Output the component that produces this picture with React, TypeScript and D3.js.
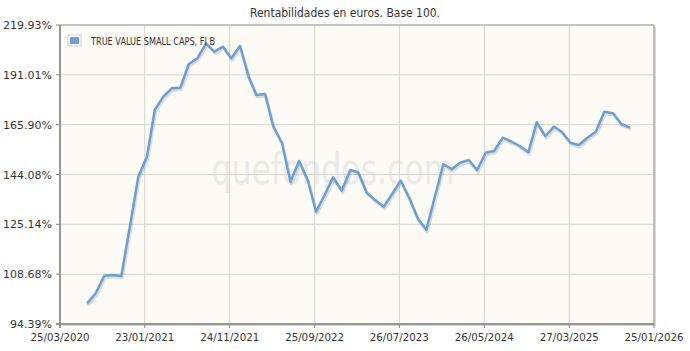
import React from "react";
import * as d3 from "d3";

const title = "Rentabilidades en euros. Base 100.";
const seriesName = "TRUE VALUE SMALL CAPS, FI B";

const dates = [
  "2020-06-30","2020-07-31","2020-08-31","2020-09-30","2020-10-31","2020-11-30","2020-12-31",
  "2021-01-31","2021-02-28","2021-03-31","2021-04-30","2021-05-31","2021-06-30","2021-07-31","2021-08-31","2021-09-30","2021-10-31","2021-11-30","2021-12-31",
  "2022-01-31","2022-02-28","2022-03-31","2022-04-30","2022-05-31","2022-06-30","2022-07-31","2022-08-31","2022-09-30","2022-10-31","2022-11-30","2022-12-31",
  "2023-01-31","2023-02-28","2023-03-31","2023-04-30","2023-05-31","2023-06-30","2023-07-31","2023-08-31","2023-09-30","2023-10-31","2023-11-30","2023-12-31",
  "2024-01-31","2024-02-29","2024-03-31","2024-04-30","2024-05-31","2024-06-30","2024-07-31","2024-08-31","2024-09-30","2024-10-31","2024-11-30","2024-12-31",
  "2025-01-31","2025-02-28","2025-03-31","2025-04-30","2025-05-31","2025-06-30","2025-07-31","2025-08-31","2025-09-30","2025-10-31",
];

const values = [
  100.0, 102.96, 108.21, 108.42, 108.12, 123.85, 143.19,
  151.53, 172.93, 179.56, 183.88, 184.19, 196.8, 200.17, 208.85, 203.94, 206.85, 200.17, 207.26,
  190.01, 180.42, 180.94, 164.95, 157.38, 141.18, 149.69, 141.86, 129.69, 135.96, 142.95, 137.63,
  145.93, 144.98, 136.85, 134.05, 131.54, 136.35, 141.58, 134.7, 127.29, 123.15, 135.2, 148.3,
  146.34, 148.97, 150.12, 145.93, 153.25, 153.99, 159.89, 158.18, 156.18, 153.42, 167.01, 160.66,
  164.95, 162.63, 157.65, 156.63, 159.89, 162.63, 172.1, 171.32, 166.21, 164.48,
];

const yTicks = [94.39, 108.68, 125.14, 144.08, 165.9, 191.01, 219.93];
const xTickLabels = ["25/03/2020","23/01/2021","24/11/2021","25/09/2022","26/07/2023","26/05/2024","27/03/2025","25/01/2026"];
const xDomain = ["2020-03-25", "2026-01-25"];

const W = 690, H = 351;
const M = { left: 60, right: 36, top: 25, bottom: 27 };
const font = "'DejaVu Sans', Verdana, sans-serif";

export default function App() {
  const parse = d3.timeParse("%Y-%m-%d");
  const parseLabel = d3.timeParse("%d/%m/%Y");
  const x = d3.scaleTime()
    .domain(xDomain.map((d) => parse(d) as Date))
    .range([M.left, W - M.right]);
  const y = d3.scaleLog()
    .domain([yTicks[0], yTicks[yTicks.length - 1]])
    .range([H - M.bottom, M.top]);
  const data = dates.map((d, i) => ({ date: parse(d) as Date, v: values[i] }));
  const line = d3.line<{ date: Date; v: number }>()
    .x((d) => x(d.date))
    .y((d) => y(d.v));
  const path = line(data) || "";
  const x0 = M.left, x1 = W - M.right, y0 = M.top, y1 = H - M.bottom;
  const xTicks = xTickLabels.map((l) => ({ l, d: parseLabel(l) as Date }));

  return (
    <svg width={W} height={H} style={{ position: "absolute", left: 0, top: 0, background: "#fff" }}>
      <text x={W / 2} y={17} textAnchor="middle" fontFamily={font} fontSize={12} fill="#333" textLength={190} lengthAdjust="spacingAndGlyphs">{title}</text>
      <rect x={x0 + 2} y={y0 + 2} width={x1 - x0} height={y1 - y0} fill="#d8d8d8" />
      <rect x={x0} y={y0} width={x1 - x0} height={y1 - y0} fill="#fcfbf6" />
      <text x={333} y={184} textAnchor="middle" fontFamily={font} fontSize={42} fill="#ebeae6" textLength={243} lengthAdjust="spacingAndGlyphs">quefondos.com</text>
      {yTicks.map((t) => (
        <line key={"gy" + t} x1={x0} x2={x1} y1={y(t)} y2={y(t)} stroke="#d4d4d0" strokeWidth={1} />
      ))}
      {xTicks.map((t) => (
        <line key={"gx" + t.l} x1={x(t.d)} x2={x(t.d)} y1={y0} y2={y1} stroke="#d4d4d0" strokeWidth={1} />
      ))}
      <rect x={x0} y={y0} width={x1 - x0} height={y1 - y0} fill="none" stroke="#a0a0a0" strokeWidth={1} />
      <line x1={x0} x2={x0} y1={y0} y2={y1 + 4} stroke="#888" strokeWidth={1.5} />
      <line x1={x0 - 4} x2={x1} y1={y1} y2={y1} stroke="#888" strokeWidth={1.5} />
      {yTicks.map((t) => (
        <g key={"ty" + t}>
          <line x1={x0 - 4} x2={x0} y1={y(t)} y2={y(t)} stroke="#888" />
          <text x={x0 - 8} y={y(t) + 4} textAnchor="end" fontFamily={font} fontSize={11} fill="#333">{t.toFixed(2) + "%"}</text>
        </g>
      ))}
      {xTicks.map((t) => (
        <g key={"tx" + t.l}>
          <line x1={x(t.d)} x2={x(t.d)} y1={y1} y2={y1 + 4} stroke="#888" />
          <text x={x(t.d)} y={y1 + 17} textAnchor="middle" fontFamily={font} fontSize={11} fill="#333" textLength={59} lengthAdjust="spacingAndGlyphs">{t.l}</text>
        </g>
      ))}
      <path d={path} fill="none" stroke="rgba(0,0,0,0.12)" strokeWidth={3} transform="translate(1,2)" strokeLinejoin="round" />
      <path d={path} fill="none" stroke="#6a9fd8" strokeWidth={2.5} strokeLinejoin="round" />
      <rect x={68} y={35} width={13} height={11} fill="#fff" stroke="#d0d0d0" />
      <rect x={70} y={37} width={9} height={7} fill="#6a9fd8" />
      <text x={91} y={44.5} fontFamily={font} fontSize={11} fill="#333" textLength={124} lengthAdjust="spacingAndGlyphs">{seriesName}</text>
    </svg>
  );
}
